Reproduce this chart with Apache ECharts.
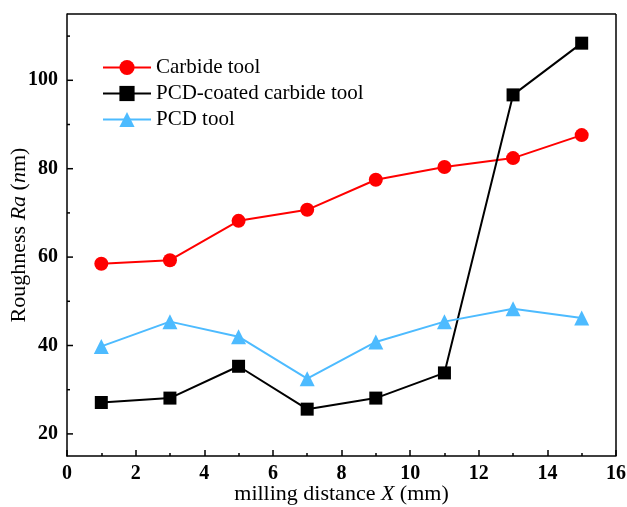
<!DOCTYPE html>
<html><head><meta charset="utf-8">
<script src="https://cdn.jsdelivr.net/npm/echarts@6/dist/echarts.min.js"></script>
<style>html,body{margin:0;padding:0;background:#fff}#c{width:627px;height:507px}</style>
</head><body><div id="c"></div>
<script>
var xValues = [1, 3, 5, 7, 9, 11, 13, 15];
var carbide = [58.5, 59.3, 68.2, 70.7, 77.5, 80.4, 82.4, 87.6];
var pcdCoated = [27.1, 28.1, 35.3, 25.6, 28.1, 33.8, 96.7, 108.4];
var pcd = [39.8, 45.4, 42.0, 32.5, 40.8, 45.4, 48.3, 46.2];
var seriesNames = ['Carbide tool', 'PCD-coated carbide tool', 'PCD tool'];

function pairs(v){ return xValues.map(function(x,i){return [x, v[i]];}); }
var font = 'Liberation Serif';
var chart = echarts.init(document.getElementById('c'), null, {renderer:'canvas'});
chart.setOption({
  animation:false,
  backgroundColor:'#fff',
  grid:{left:67, right:11, top:14, bottom:51, containLabel:false, outerBoundsMode:'none'},
  legend:{
    left:102, top:56, padding:0, orient:'vertical', itemGap:3, itemWidth:48, itemHeight:19,
    textStyle:{fontFamily:font, fontSize:21, color:'#000', lineHeight:23},
    data:seriesNames
  },
  xAxis:{
    type:'value', min:0, max:16, interval:2,
    name:'milling distance {i|X} (mm)', nameLocation:'middle', nameGap:27, nameMoveOverlap:false,
    nameTextStyle:{fontFamily:font, fontSize:22, color:'#000',
      rich:{i:{fontFamily:font, fontSize:22, fontStyle:'italic', color:'#000'}}},
    axisLine:{show:true, lineStyle:{color:'#000', width:1.5}},
    axisTick:{show:true, inside:true, length:6, lineStyle:{color:'#000', width:1.5}},
    minorTick:{show:true, splitNumber:2, length:3, lineStyle:{color:'#000', width:1.5}},
    axisLabel:{fontFamily:font, fontSize:20, fontWeight:'bold', color:'#000', margin:8},
    splitLine:{show:false}
  },
  yAxis:{
    type:'value', min:15, max:115, interval:5,
    axisLabel:{fontFamily:font, fontSize:20, fontWeight:'bold', color:'#000', margin:9,
      formatter:function(v){ return (Math.round(v)%20===0) ? String(Math.round(v)) : ''; }},
    name:'Roughness {i|Ra} ({i|n}m)', nameLocation:'middle', nameGap:37, nameMoveOverlap:false,
    nameTextStyle:{fontFamily:font, fontSize:22, color:'#000',
      rich:{i:{fontFamily:font, fontSize:22, fontStyle:'italic', color:'#000'}}},
    axisLine:{show:true, lineStyle:{color:'#000', width:1.5}},
    axisTick:{show:false},
    splitLine:{show:false}
  },
  series:[
    {name:seriesNames[0], type:'line', data:pairs(carbide), symbol:'circle', symbolSize:14,
      itemStyle:{color:'#ff0000'}, lineStyle:{color:'#ff0000', width:2}},
    {name:seriesNames[1], type:'line', data:pairs(pcdCoated), symbol:'rect', symbolSize:13,
      itemStyle:{color:'#000'}, lineStyle:{color:'#000', width:2}},
    {name:seriesNames[2], type:'line', data:pairs(pcd), symbol:'triangle', symbolSize:15,
      itemStyle:{color:'#4dbbff'}, lineStyle:{color:'#4dbbff', width:2}},
    {type:'line', data:[], silent:true,
      markLine:{silent:true, symbol:'none', label:{show:false},
        lineStyle:{color:'#000', width:1.5, type:'solid'},
        data:[[{coord:[0,115]},{coord:[16,115]}],[{coord:[16,15]},{coord:[16,115]}]]}}
  ]
});
(function(){
  var g=[];
  for (var v=20; v<=110; v+=10){
    var p = chart.convertToPixel({gridIndex:0},[0,v]);
    var len = (v%20===0)?6:3;
    g.push({type:'line', shape:{x1:p[0], y1:p[1], x2:p[0]+len, y2:p[1]}, style:{stroke:'#000', lineWidth:1.5}, silent:true});
  }
  chart.setOption({graphic:g});
})();
</script></body></html>
